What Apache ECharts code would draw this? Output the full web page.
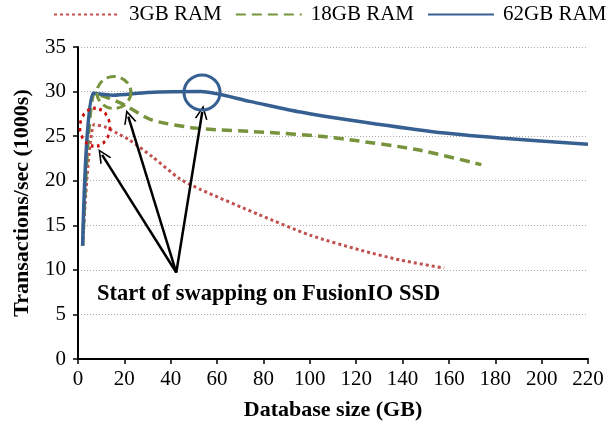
<!DOCTYPE html>
<html>
<head>
<meta charset="utf-8">
<script src="https://cdn.jsdelivr.net/npm/echarts@6/dist/echarts.min.js"></script>
<style>
  html, body { margin: 0; padding: 0; background: #fff; }
  #chart { width: 609px; height: 430px; }
</style>
</head>
<body>
<div id="chart"></div>
<script>
// 数据：数据库大小 (GB) -> 每秒事务数 (千)
var ram3 = [[2, 12.7], [7, 26.3], [12, 26.0], [17, 25.3], [22, 24.6], [32, 22.7], [44, 20.2], [53, 19.0], [78, 16.2], [100, 13.9], [122, 12.2], [139, 11.1], [158, 10.2]];
var ram18 = [[2, 12.7], [7, 29.8], [13, 29.3], [20, 28.5], [32, 26.8], [51, 25.9], [83, 25.4], [104, 25.0], [117, 24.6], [146, 23.5], [174, 21.8]];
var ram62 = [[2, 12.7], [6.5, 29.8], [15, 29.6], [30, 29.9], [53, 30.0], [74, 28.9], [96, 27.7], [117, 26.8], [153, 25.5], [182, 24.8], [220, 24.1]];
var seriesNames = ['3GB RAM', '18GB RAM', '62GB RAM'];

// 标注：圈出的开始交换点、箭头起点/终点
var swapMarks = [[7.3, 26.0], [15.5, 29.9], [53.5, 29.9]];
var arrowFrom = [42.4, 9.7];
var arrowTo = [[10.4, 22.9], [21.7, 27.2], [53.6, 27.7]];
var noteText = 'Start of swapping on FusionIO SSD';

var serif = '"Times New Roman", "Liberation Serif", Times, serif';
var chart = echarts.init(document.getElementById('chart'));

function circleMark(coord, size, color, type) {
  return {
    symbol: 'circle',
    symbolSize: size,
    silent: true,
    label: { show: false },
    itemStyle: { color: 'rgba(0,0,0,0)', borderColor: color, borderWidth: 3, borderType: type },
    data: [{ coord: coord }]
  };
}

chart.setOption({
  animation: false,
  textStyle: { fontFamily: serif },
  legend: {
    top: 4,
    left: 53,
    right: 0,
    padding: 0,
    itemWidth: 66,
    itemHeight: 10,
    itemGap: 13,
    itemStyle: { opacity: 0 },
    textStyle: { fontFamily: serif, fontSize: 21, color: '#000', padding: [0, 0, 0, 4] },
    data: seriesNames
  },
  grid: { left: 78, right: 21, top: 47, bottom: 71 },
  xAxis: {
    type: 'value', min: 0, max: 220, interval: 20,
    name: 'Database size (GB)', nameLocation: 'middle', nameGap: 40,
    nameTextStyle: { fontFamily: serif, fontSize: 22, fontWeight: 'bold', color: '#000' },
    axisLine: { lineStyle: { color: '#000', width: 2 } },
    axisTick: { show: true, length: 5, lineStyle: { color: '#000', width: 1.5 } },
    axisLabel: { fontFamily: serif, fontSize: 21, color: '#000', margin: 10 },
    splitLine: { show: false }
  },
  yAxis: {
    type: 'value', min: 0, max: 35, interval: 5,
    name: 'Transactions/sec (1000s)', nameLocation: 'middle', nameGap: 45,
    nameTextStyle: { fontFamily: serif, fontSize: 22, fontWeight: 'bold', color: '#000' },
    axisLine: { show: true, lineStyle: { color: '#000', width: 2 } },
    axisTick: { show: true, length: 5, lineStyle: { color: '#000', width: 1.5 } },
    axisLabel: { fontFamily: serif, fontSize: 21, color: '#000', margin: 12 },
    splitLine: { show: true, lineStyle: { color: '#aaa', width: 1, type: [1, 2] } }
  },
  graphic: [{
    type: 'text', left: 97, top: 283,
    style: { text: noteText, font: 'bold 22.5px "Times New Roman", "Liberation Serif", serif', fill: '#000' }
  }],
  series: [
    {
      name: seriesNames[0], type: 'line', data: ram3, smooth: 0.25, symbol: 'none', z: 2,
      lineStyle: { color: '#C0504D', width: 3, type: [3, 3] },
      itemStyle: { color: '#C0504D' },
      markPoint: circleMark(swapMarks[0], [30, 38], '#CC1111', [3, 4])
    },
    {
      name: seriesNames[1], type: 'line', data: ram18, smooth: 0.25, symbol: 'none', z: 3,
      lineStyle: { color: '#77933C', width: 3.5, type: [10, 6] },
      itemStyle: { color: '#77933C' },
      markPoint: circleMark(swapMarks[1], [34, 32], '#77933C', [9, 5])
    },
    {
      name: seriesNames[2], type: 'line', data: ram62, smooth: 0.25, symbol: 'none', z: 4,
      lineStyle: { color: '#376092', width: 3.5, type: 'solid' },
      itemStyle: { color: '#376092' },
      markPoint: circleMark(swapMarks[2], [36, 35], '#376092', 'solid'),
      markLine: {
        silent: true,
        symbol: ['none', 'path://M0,0 L6,12 L4.4,12 L0,3.2 L-4.4,12 L-6,12 Z'],
        symbolSize: [13, 14],
        label: { show: false },
        lineStyle: { color: '#000', width: 2.5, type: 'solid' },
        data: arrowTo.map(function (t) {
          return [{ coord: arrowFrom }, { coord: t }];
        })
      }
    }
  ]
});
</script>
</body>
</html>
